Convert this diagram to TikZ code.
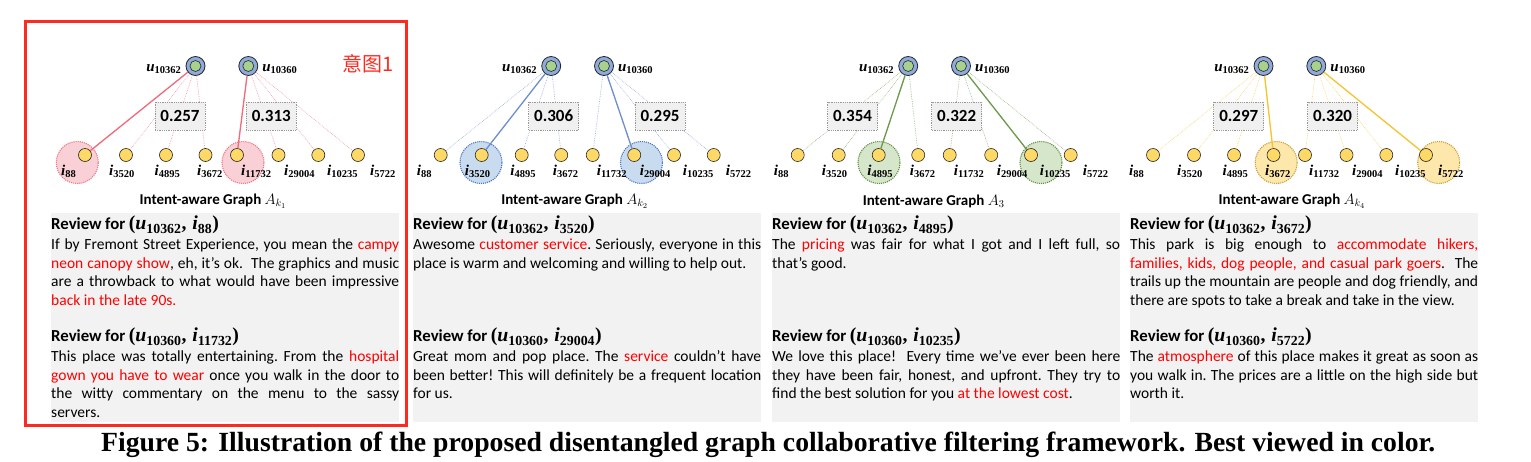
\documentclass[tikz,border=0pt]{standalone}
\usepackage{fix-cm}
\usepackage{amsmath}
\usepackage[no-math]{fontspec}
\setmainfont{Carlito}
\newfontfamily\capfont{Liberation Serif}
\newfontfamily\mfont[Scale=1.2]{Liberation Serif}
\newfontfamily\cjk{Noto Sans CJK SC}
\usetikzlibrary{positioning,backgrounds}
\hyphenpenalty=10000
\exhyphenpenalty=10000

\definecolor{ublue}{HTML}{8FAADC}
\definecolor{ugreen}{HTML}{A9D18E}
\definecolor{iyel}{HTML}{FFD966}
\definecolor{revbg}{HTML}{F2F2F2}
\definecolor{tagred}{HTML}{FF2A1F}
% edge / highlight fill / highlight border per intent
\definecolor{e1}{HTML}{F06B7B}\definecolor{f1}{HTML}{F9D0D6}\definecolor{b1}{HTML}{EE7585}
\definecolor{e2}{HTML}{6F8FD0}\definecolor{f2}{HTML}{C9DCEF}\definecolor{b2}{HTML}{4A72C4}
\definecolor{e3}{HTML}{6E9A4E}\definecolor{f3}{HTML}{D6E6CB}\definecolor{b3}{HTML}{5E8E3E}
\definecolor{e4}{HTML}{F5C431}\definecolor{f4}{HTML}{FDE7AA}\definecolor{b4}{HTML}{C9A032}

\newcommand{\ent}[2]{{\mfont\bfseries\itshape #1}\textsubscript{\mfont\bfseries #2}}
\newcommand{\revhead}[2]{{\fontsize{16.8}{20}\selectfont\bfseries Review for
  {\fontsize{16.5}{16.5}\selectfont\mfont(\ent{u}{#1},\hspace{0.3em}\ent{i}{#2})}}}

\begin{document}
\begin{tikzpicture}[
      x=1pt, y=-1pt,
      user/.style={circle, draw=black!85, line width=0.8pt, fill=ublue, minimum size=19pt,
                   inner sep=0pt, path picture={\draw[black!85, line width=0.6pt, fill=ugreen]
                   (path picture bounding box.center) circle (5.5pt);}},
      item/.style={circle, draw=black!85, line width=0.6pt, fill=iyel, minimum size=13pt, inner sep=0pt},
      hl/.style={circle, densely dotted, line width=1.1pt, minimum size=42pt, inner sep=0pt},
      lab/.style={font=\fontsize{12.5}{13}\selectfont, inner sep=0pt},
      score/.style={draw=gray!80, densely dotted, line width=0.8pt, fill=black!6, minimum width=50pt,
                    minimum height=28pt, inner sep=0pt, font=\fontsize{17}{17}\selectfont\bfseries},
      ttl/.style={font=\fontsize{15}{15}\selectfont\bfseries, inner sep=0pt},
      revbox/.style={fill=revbg, minimum width=348pt, minimum height=209pt, inner sep=0pt},
      review/.style={anchor=north west, inner sep=0pt, text width=348pt, align=justify,
                     font=\fontsize{15.5}{18.6}\selectfont,
                     execute at begin node={\frenchspacing\spaceskip=0.226em plus 0.6em minus 0.03em\relax}},
      soft/.style={densely dotted, line width=0.7pt},
      hard/.style={line width=1.3pt}
    ]
    \useasboundingbox (0,0) rectangle (1531,461);

    \foreach \p/\bx/\rx/\sa/\sb/\ha/\hb/\ba/\bb/\va/\vb/\tx/\sub in {
        1/85/51/1/5/-7.7/6/95/186.3/0.257/0.313/128/{k_1},
        2/440.7/413/2/6/-0.7/7.3/113/219.3/0.306/0.295/134/{k_2},
        3/797.7/772/3/7/0.3/10/54.8/159/0.354/0.322/136/3,
        4/1153/1130/4/8/2.7/12.7/85.8/179.5/0.297/0.320/139/{k_4}} {
      \node[revbox] (bg\p) at (\rx+174,317.5) {};
      \foreach \k/\ox/\lx/\nm in {1/0/-24/88, 2/41/24/3520, 3/81/69.5/4895, 4/120.5/112/3672,
          5/152/156/11732, 6/193.5/199/29004, 7/233.3/242/10235, 8/273/285/5722} {
        \node[item] (i\p-\k) at (\bx+\ox,155) {};
        \node[lab, anchor=base west] (l\p-\k) at (\bx+\lx,175) {\ent{i}{\nm}};
      }
      \node[user] (ua\p) at (\bx+110.5,66) {};
      \node[user] (ub\p) at (\bx+163.3,66) {};
      \node[lab, left=4pt of ua\p, yshift=-3pt] (la\p) {\ent{u}{10362}};
      \node[lab, right=4pt of ub\p, yshift=-3pt] (lb\p) {\ent{u}{10360}};
      \begin{pgfonlayer}{background}
        \node[hl, draw=b\p, fill=f\p] (ha\p) at ([xshift=\ha, yshift=-7.5pt]i\p-\sa) {};
        \node[hl, draw=b\p, fill=f\p] (hb\p) at ([xshift=\hb, yshift=-7.5pt]i\p-\sb) {};
      \end{pgfonlayer}
      \foreach \k in {1,...,4} \draw[soft, draw=e\p!65] (ua\p) -- (i\p-\k);
      \foreach \k in {5,...,8} \draw[soft, draw=e\p!65] (ub\p) -- (i\p-\k);
      \draw[hard, draw=e\p] (ua\p) -- (i\p-\sa);
      \draw[hard, draw=e\p] (ub\p) -- (i\p-\sb);
      \node[score] (sa\p) at (\bx+\ba,116) {\va};
      \node[score] (sb\p) at (\bx+\bb,116) {\vb};
      \node[ttl] (t\p) at (\bx+\tx,201) {Intent-aware Graph $A_{\sub}$};
    }

    \node[review] (ra1) at (51,216) {\revhead{10362}{88}\\[1pt]
      If by Fremont Street Experience, you mean the \textcolor{red}{campy\linebreak neon canopy show}, eh,
      it's ok.\ \ The graphics and music\linebreak are a throwback to what would have been
      impressive\linebreak \textcolor{red}{back in the late 90s.}};
    \node[review] (rb1) at (51,328) {\revhead{10360}{11732}\\[1pt]
      This place was totally entertaining. From the \textcolor{red}{hospital\linebreak gown you have to
      wear} once you walk in the door to\linebreak the witty commentary on the menu to the
      sassy\linebreak servers.};
    \node[review] (ra2) at (413,216) {\revhead{10362}{3520}\\[1pt]
      Awesome \textcolor{red}{customer service}. Seriously, everyone in this\linebreak place is warm and
      welcoming and willing to help out.};
    \node[review] (rb2) at (413,328) {\revhead{10360}{29004}\\[1pt]
      Great mom and pop place. The \textcolor{red}{service} couldn't have\linebreak been better! This will
      definitely be a frequent location\linebreak for us.};
    \node[review] (ra3) at (772,216) {\revhead{10362}{4895}\\[1pt]
      The \textcolor{red}{pricing} was fair for what I got and I left full, so\linebreak that's good.};
    \node[review] (rb3) at (772,328) {\revhead{10360}{10235}\\[1pt]
      We love this place!\ \ Every time we've ever been here\linebreak they have been fair, honest, and
      upfront. They try to\linebreak find the best solution for you \textcolor{red}{at the lowest cost}.};
    \node[review] (ra4) at (1130,216) {\revhead{10362}{3672}\\[1pt]
      This park is big enough to \textcolor{red}{accommodate hikers,\linebreak families, kids, dog people, and
      casual park goers}.\ \ The\linebreak trails up the mountain are people and dog friendly,
      and\linebreak there are spots to take a break and take in the view.};
    \node[review] (rb4) at (1130,328) {\revhead{10360}{5722}\\[1pt]
      The \textcolor{red}{atmosphere} of this place makes it great as soon as\linebreak you walk in. The
      prices are a little on the high side but\linebreak worth it.};

    \draw[tagred, line width=3pt] (25.5,21.5) rectangle (406.5,425);
    \node[text=tagred, font=\cjk\fontsize{20}{20}\selectfont, inner sep=0pt] (tag) at (368,64) {意图1};

    \node[anchor=base west, inner sep=0pt] (cap) at (101,451.5)
      {\resizebox{1334pt}{!}{\capfont\bfseries\fontsize{25.5}{26}\selectfont Figure 5: Illustration of
      the proposed disentangled graph collaborative filtering framework. Best viewed in color.}};
  \end{tikzpicture}
\end{document}
